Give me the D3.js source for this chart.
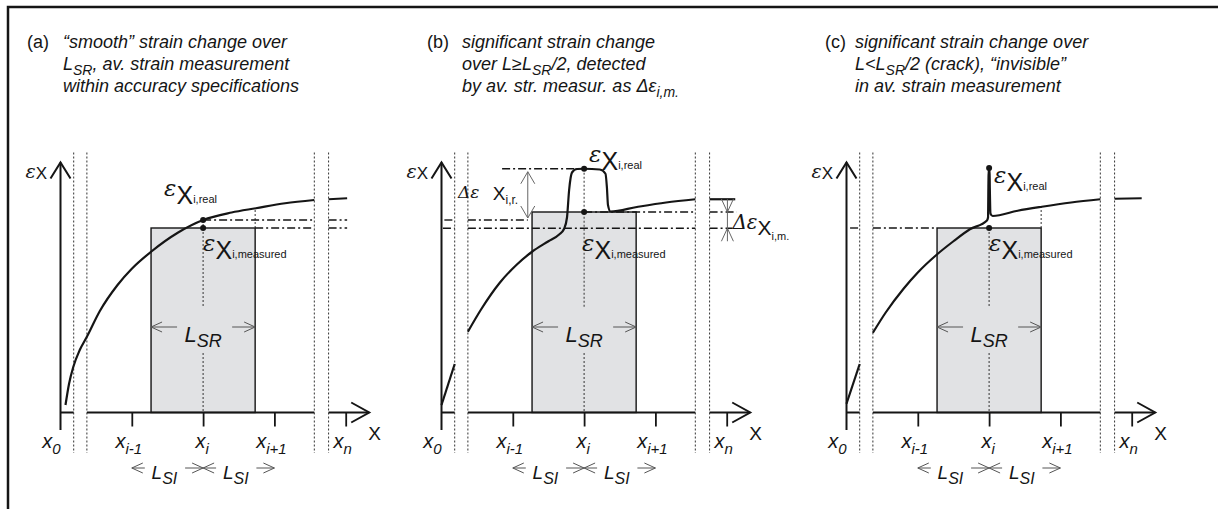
<!DOCTYPE html>
<html>
<head>
<meta charset="utf-8">
<script src="https://cdn.jsdelivr.net/npm/d3@7"></script>
<style>
  body { margin: 0; background: #fff; }
  svg { display: block; font-family: "Liberation Sans", Arial, sans-serif; }
</style>
</head>
<body>
<div id="chart"></div>
<script>

// ---- data (diagram units: x0 = 0, x_{i-1} = 1, x_i = 2, x_{i+1} = 3, x_n = 4) ----

const panelLabels = ["(a)", "(b)", "(c)"]

const titleA = [
  [["“smooth” strain change over"]],
  [["L"], ["SR", "sub"], [", av. strain measurement"]],
  [["within accuracy specifications"]],
]
const titleB = [
  [["significant strain change"]],
  [["over L≥L"], ["SR", "sub"], ["/2, detected"]],
  [["by av. str. measur. as Δε"], ["i,m.", "sub"]],
]
const titleC = [
  [["significant strain change over"]],
  [["L<L"], ["SR", "sub"], ["/2 (crack), “invisible”"]],
  [["in av. strain measurement"]],
]

const tickValues = [0, 1, 2, 3, 4]
const tickSubs = ["0", "i-1", "i", "i+1", "n"]
const axisGaps = [[0.185, 0.37], [3.56, 3.76]]
const windowRange = [1.27, 2.73]          // L_SR
const measuredValues = [7.38, 8.02, 7.38]
const realValues = [7.7, 9.75, 9.78]

// strain curves, split where the drawing breaks them
const curveA = [
  [[0.07, 0.3], [0.12, 1.15], [0.18, 1.83], [0.27, 2.5], [0.37, 3.03], [0.55, 4.05],
   [0.8, 5.1], [1.0, 5.75], [1.27, 6.43], [1.65, 7.2], [2.0, 7.7], [2.4, 8.0],
   [2.74, 8.17], [3.15, 8.37], [3.56, 8.5]],
  [[3.76, 8.53], [4.02, 8.57]],
]
const curveB = [
  [[0.0, 0.3], [0.185, 1.94]],
  [[0.37, 3.23], [0.55, 4.1], [0.82, 5.2], [1.05, 5.9], [1.27, 6.43], [1.5, 6.85],
   [1.65, 7.12], [1.72, 7.35], [1.76, 7.8], [1.79, 8.9], [1.83, 9.6], [1.9, 9.74],
   [2.0, 9.75], [2.22, 9.72], [2.3, 9.55], [2.32, 9.0], [2.335, 8.3], [2.37, 8.04],
   [2.74, 8.22], [3.15, 8.4], [3.56, 8.53]],
  [[3.76, 8.53], [4.12, 8.53]],
]
const curveC = [
  [[0.0, 0.35], [0.185, 1.94]],
  [[0.37, 3.19], [0.55, 4.0], [0.8, 4.95], [1.0, 5.6], [1.26, 6.3], [1.5, 6.85],
   [1.73, 7.33], [1.97, 7.68], [1.985, 7.8], [1.99, 9.0], [1.994, 9.78], [2.006, 9.78],
   [2.01, 9.0], [2.02, 7.95], [2.05, 7.86], [2.4, 8.07], [2.74, 8.23], [3.15, 8.4],
   [3.56, 8.53]],
  [[3.76, 8.55], [4.14, 8.57]],
]

// dash-dot reference levels: [level, from, to]
const refLinesA = [[7.7, 2.0, 4.02], [7.38, 2.73, 4.02]]
const refLinesB = [[9.75, 0.85, 2.0], [7.7, 0.04, 1.21], [7.37, 0.02, 4.08], [8.02, 2.0, 4.14]]
const refLinesC = [[7.38, 0.05, 1.27]]

// dotted drop lines: [x, from level, to level]
const dropLinesA = [[2, 7.7, 4.22], [2, 2.38, 0], [2.73, 7.38, 8.17]]
const dropLinesB = [[2, 9.75, 4.22], [2, 2.38, 0]]
const dropLinesC = [[2, 7.38, 4.22], [2, 2.38, 0], [2.73, 7.38, 8.23]]

// panel (b) extra levels: Δε range and old measured level
const deltaRealB = [9.75, 7.7]
const deltaMeasB = [8.02, 7.37, 8.53]

// ---- layout ----

let dimensions = {
  width: 1218,
  height: 509,
  originX: [60.5, 441.5, 846.5],
  tickStep: 71.3,
  yZero: 412.5,
  yTop: 162.5,
  titleX: [27, 427, 825],
  textX: [63, 462, 855],
  titleY: [48, 70, 92],
}

const serif = "'DejaVu Serif', 'Liberation Serif', serif"
const ink = "#151515"

const wrapper = d3.select("#chart")
  .append("svg")
    .attr("width", dimensions.width)
    .attr("height", dimensions.height)

// frame (left and top edges only)
wrapper.append("path")
    .attr("d", `M8,${dimensions.height}V7H${dimensions.width}`)
    .attr("fill", "none")
    .attr("stroke", ink)
    .attr("stroke-width", 2.5)

const panels = [
  { title: titleA, curve: curveA, refs: refLinesA, drops: dropLinesA },
  { title: titleB, curve: curveB, refs: refLinesB, drops: dropLinesB },
  { title: titleC, curve: curveC, refs: refLinesC, drops: dropLinesC },
]

panels.forEach((p, i) => drawPanel(p, i))

function subtractGaps(a, b, gaps) {
  let segs = [[a, b]]
  gaps.forEach(([g0, g1]) => {
    segs = segs.flatMap(([s0, s1]) => {
      if (s1 <= g0 || s0 >= g1) return [[s0, s1]]
      const out = []
      if (s0 < g0) out.push([s0, g0])
      if (s1 > g1) out.push([g1, s1])
      return out
    })
  })
  return segs
}

function head(g, tip, from, len, half, color, w) {
  const dx = tip[0] - from[0], dy = tip[1] - from[1]
  const L = Math.hypot(dx, dy)
  const ux = dx / L, uy = dy / L
  const bx = tip[0] - ux * len, by = tip[1] - uy * len
  g.append("path")
      .attr("d", `M${bx - uy * half},${by + ux * half}L${tip[0]},${tip[1]}L${bx + uy * half},${by - ux * half}`)
      .attr("fill", "none")
      .attr("stroke", color)
      .attr("stroke-width", w)
}

function arrow(g, from, tip, color = "#555", w = 1, len = 11, half = 5) {
  g.append("line")
      .attr("x1", from[0]).attr("y1", from[1])
      .attr("x2", tip[0]).attr("y2", tip[1])
      .attr("stroke", color)
      .attr("stroke-width", w)
  head(g, tip, from, len, half, color, w)
}

function richText(g, px, py, parts, o) {
  const t = g.append("text")
      .attr("x", px)
      .attr("y", py)
      .attr("font-size", o.size)
      .attr("font-style", o.italic ? "italic" : null)
      .attr("text-anchor", o.anchor || null)
      .attr("fill", ink)
  let shift = 0
  parts.forEach(([txt, sub]) => {
    const s = sub ? o.subShift : 0
    t.append("tspan")
        .attr("dy", s - shift)
        .attr("font-size", sub ? o.subSize : null)
        .text(txt)
    shift = s
  })
  return t
}

function epsLabel(g, px, py, sub, s) {
  const t = g.append("text")
      .attr("x", px)
      .attr("y", py)
      .attr("fill", ink)
  t.append("tspan")
      .attr("font-family", serif)
      .attr("font-style", "italic")
      .attr("font-size", s.eps)
      .text("ε")
  t.append("tspan")
      .attr("font-size", s.x)
      .attr("dy", s.xDy)
      .text("X")
  if (sub) {
    t.append("tspan")
        .attr("font-size", s.sub)
        .attr("dy", s.subDy)
        .text(sub)
  }
}

function drawPanel(p, i) {
  const ox = dimensions.originX[i]
  const xScale = d3.scaleLinear()
    .domain([0, 4])
    .range([ox, ox + 4 * dimensions.tickStep])
  const yScale = d3.scaleLinear()
    .domain([0, 10])
    .range([dimensions.yZero, dimensions.yTop])

  const g = wrapper.append("g")

  // title
  g.append("text")
      .attr("x", dimensions.titleX[i])
      .attr("y", dimensions.titleY[0])
      .attr("font-size", 18)
      .attr("fill", ink)
      .text(panelLabels[i])
  p.title.forEach((line, k) => {
    richText(g, dimensions.textX[i], dimensions.titleY[k], line,
      { size: 18, subSize: 14, subShift: 5, italic: true })
  })

  // L_SR window
  const meas = measuredValues[i]
  g.append("rect")
      .attr("x", xScale(windowRange[0]))
      .attr("y", yScale(meas))
      .attr("width", xScale(windowRange[1]) - xScale(windowRange[0]))
      .attr("height", yScale(0) - yScale(meas))
      .attr("fill", "#e1e2e4")
      .attr("stroke", ink)
      .attr("stroke-width", 1.4)

  // dotted break lines
  axisGaps.flat().forEach(v => {
    g.append("line")
        .attr("x1", xScale(v)).attr("x2", xScale(v))
        .attr("y1", yScale(10.4)).attr("y2", yScale(-1.62))
        .attr("stroke", "#333")
        .attr("stroke-width", 1)
        .attr("stroke-dasharray", "2,2")
  })

  // dotted drop lines
  p.drops.forEach(([v, a, b]) => {
    g.append("line")
        .attr("x1", xScale(v)).attr("x2", xScale(v))
        .attr("y1", yScale(a)).attr("y2", yScale(b))
        .attr("stroke", "#333")
        .attr("stroke-width", 1)
        .attr("stroke-dasharray", "2,2")
  })

  // dash-dot levels
  p.refs.forEach(([lv, a, b]) => {
    subtractGaps(a, b, axisGaps).forEach(([s0, s1]) => {
      g.append("line")
          .attr("x1", xScale(s0)).attr("x2", xScale(s1))
          .attr("y1", yScale(lv)).attr("y2", yScale(lv))
          .attr("stroke", ink)
          .attr("stroke-width", 1.4)
          .attr("stroke-dasharray", "8,3,2,3")
    })
  })

  // axes
  const axisEnd = 4.33
  subtractGaps(0, axisEnd, axisGaps).forEach(([s0, s1]) => {
    g.append("line")
        .attr("x1", xScale(s0)).attr("x2", xScale(s1))
        .attr("y1", yScale(0)).attr("y2", yScale(0))
        .attr("stroke", ink)
        .attr("stroke-width", 2)
  })
  head(g, [xScale(axisEnd), yScale(0)], [xScale(0), yScale(0)], 18, 10, ink, 2)

  g.append("line")
      .attr("x1", xScale(0)).attr("x2", xScale(0))
      .attr("y1", yScale(10)).attr("y2", yScale(-0.7))
      .attr("stroke", ink)
      .attr("stroke-width", 2)
  head(g, [xScale(0), yScale(10)], [xScale(0), yScale(0)], 16, 10, ink, 2)

  const xAxisGenerator = d3.axisBottom()
    .scale(xScale)
    .tickValues(tickValues.slice(1))
    .tickSize(14)
    .tickFormat("")
  const xAxis = g.append("g")
      .attr("transform", `translate(0, ${yScale(0)})`)
    .call(xAxisGenerator)
  xAxis.select(".domain").remove()
  xAxis.selectAll(".tick line")
      .attr("stroke", ink)
      .attr("stroke-width", 1.8)

  // tick labels
  tickValues.forEach((v, k) => {
    const dx = k === 0 ? -9 : (k === 2 ? -1 : -3)
    richText(g, xScale(v) + dx, 448, [["x"], [tickSubs[k], "sub"]],
      { size: 20, subSize: 15, subShift: 6, italic: true, anchor: "middle" })
  })
  g.append("text")
      .attr("x", xScale(axisEnd) - 1)
      .attr("y", 440)
      .attr("font-size", 19)
      .attr("fill", ink)
      .text("X")

  // y label
  epsLabel(g, xScale(0) - 35, 178, null, { eps: 19, x: 17, xDy: 1 })

  // curve
  const lineGenerator = d3.line()
    .x(d => xScale(d[0]))
    .y(d => yScale(d[1]))
    .curve(d3.curveMonotoneX)
  p.curve.forEach(seg => {
    g.append("path")
        .attr("d", lineGenerator(seg))
        .attr("fill", "none")
        .attr("stroke", ink)
        .attr("stroke-width", 2.2)
  })

  // points
  ;[realValues[i], meas].forEach(v => {
    g.append("circle")
        .attr("cx", xScale(2))
        .attr("cy", yScale(v))
        .attr("r", 3)
        .attr("fill", ink)
  })

  // ε labels
  const big = { eps: 23, x: 25, xDy: 8, sub: 11, subDy: -1 }
  const realPos = [[xScale(2) - 39, 196], [xScale(2) + 5, 162], [xScale(2) + 5, 183]][i]
  epsLabel(g, realPos[0], realPos[1], "i,real", big)
  epsLabel(g, xScale(2) + (i === 1 ? -2 : 0), 251, "i,measured", big)

  // L_SR
  const yL = 327
  const xl = xScale(windowRange[0]), xr = xScale(windowRange[1])
  arrow(g, [xl + 26, yL], [xl, yL])
  arrow(g, [xr - 23, yL], [xr, yL])
  richText(g, xScale(2), 342, [["L"], ["SR", "sub"]],
    { size: 22, subSize: 18, subShift: 5, italic: true, anchor: "middle" })

  // L_SI
  const yS = 468
  ;[1, 2].forEach(k => {
    const a = xScale(k), b = xScale(k + 1)
    arrow(g, [a + 13, yS], [a, yS])
    arrow(g, [b - 18, yS], [b, yS])
    richText(g, (a + b) / 2 - 3, 479, [["L"], ["SI", "sub"]],
      { size: 19, subSize: 16, subShift: 5, italic: true, anchor: "middle" })
  })

  if (i === 1) drawDeltas(g, xScale, yScale)
}

function drawDeltas(g, xScale, yScale) {
  // Δε of the real strain
  const xa = xScale(1.21)
  arrow(g, [xa, yScale(deltaRealB[1]) - 2], [xa, yScale(deltaRealB[0]) + 3], "#666", 1, 12, 7)
  head(g, [xa, yScale(deltaRealB[1]) - 2], [xa, yScale(deltaRealB[0]) + 3], 12, 7, "#666", 1)
  g.append("text")
      .attr("x", xScale(0.23))
      .attr("y", 198)
      .attr("font-family", serif)
      .attr("font-style", "italic")
      .attr("font-size", 17)
      .attr("fill", ink)
      .text("Δε")
  richText(g, xScale(0.72), 200, [["X"], ["i,r.", "sub"]],
    { size: 19, subSize: 12, subShift: 4 })

  // Δε of the measured strain
  const xb = xScale(4.01)
  const top = yScale(deltaMeasB[0]), bot = yScale(deltaMeasB[1])
  g.append("line")
      .attr("x1", xb).attr("x2", xb)
      .attr("y1", yScale(deltaMeasB[2])).attr("y2", bot + 13)
      .attr("stroke", "#666")
      .attr("stroke-width", 1)
  head(g, [xb, top], [xb, top - 13], 13, 6, "#666", 1)
  head(g, [xb, bot], [xb, bot + 13], 13, 6, "#666", 1)
  const t = g.append("text")
      .attr("x", xb + 5)
      .attr("y", 229)
      .attr("fill", ink)
  t.append("tspan")
      .attr("font-family", serif)
      .attr("font-style", "italic")
      .attr("font-size", 20)
      .text("Δε")
  t.append("tspan").attr("font-size", 21).attr("dy", 6).text("X")
  t.append("tspan").attr("font-size", 11).attr("dy", 5).text("i,m.")
}
</script>
</body>
</html>
